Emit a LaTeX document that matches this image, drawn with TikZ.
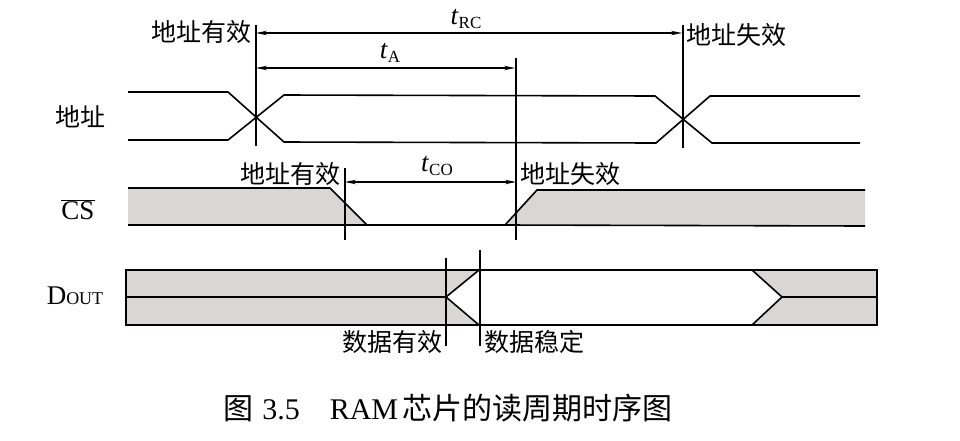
\documentclass[tikz,border=0pt]{standalone}
\usepackage{fontspec}
\setmainfont{Liberation Serif}
\newfontfamily\cjk{Noto Sans CJK SC}
\usetikzlibrary{arrows.meta}
\definecolor{shadegray}{RGB}{218,214,214}
\begin{document}
\begin{tikzpicture}[x=1pt,y=-1pt,
  sig/.style={line width=1.6pt, line join=miter},
  vline/.style={line width=1.4pt},
  dimarrow/.style={line width=1.1pt,{Stealth[length=11pt,width=4.5pt]}-{Stealth[length=11pt,width=4.5pt]}},
  lbl/.style={font=\cjk\fontsize{25}{27}\selectfont, inner sep=1pt},
  sname/.style={font=\fontsize{27}{29}\selectfont, inner sep=1pt},
  tlbl/.style={font=\fontsize{27}{29}\selectfont, inner sep=1pt}]
\useasboundingbox (0,0) rectangle (960,440);

% ---- address waveform
\draw[sig] (128,92) -- (228,92) -- (284,142) -- (656,143) -- (710,96) -- (860,96);
\draw[sig] (128,140) -- (228,140) -- (284,95) -- (655,96) -- (712,143) -- (860,143);

% ---- CS waveform
\fill[shadegray] (128,188) -- (330,188) -- (367,225) -- (128,225) -- cycle;
\fill[shadegray] (505,225) -- (537,190) -- (865,190) -- (865,226) -- cycle;
\draw[sig] (128,188) -- (330,188) -- (367,225);
\draw[sig] (128,225) -- (505,225) -- (537,190) -- (865,190);
\draw[sig] (505,225) -- (865,226);

% ---- DOUT waveform
\fill[shadegray] (126,270) -- (479,270) -- (446,297) -- (479,325) -- (126,325) -- cycle;
\fill[shadegray] (752,270) -- (877,270) -- (877,325) -- (752,325) -- (782,297) -- cycle;
\draw[sig] (126,270) rectangle (877,325);
\draw[sig] (126,297) -- (446,297);
\draw[sig] (479,270) -- (446,297) -- (479,325);
\draw[sig] (752,270) -- (782,297) -- (752,325);
\draw[sig] (782,297) -- (877,297);

% ---- vertical reference lines
\coordinate (v1t) at (256,25);  \coordinate (v1b) at (256,146);
\coordinate (v2t) at (683,25);  \coordinate (v2b) at (683,148);
\coordinate (v3t) at (516,58);  \coordinate (v3b) at (516,240);
\coordinate (v4t) at (345,168); \coordinate (v4b) at (345,240);
\coordinate (v5t) at (446,258); \coordinate (v5b) at (446,346);
\coordinate (v6t) at (480,250); \coordinate (v6b) at (480,346);
\foreach \a/\b in {v1t/v1b,v2t/v2b,v3t/v3b,v4t/v4b,v5t/v5b,v6t/v6b}
  \draw[vline] (\a) -- (\b);

% ---- timing arrows
\coordinate (rcL) at (256,33); \coordinate (rcR) at (682,33);
\coordinate (aL) at (256,68);  \coordinate (aR) at (515,68);
\coordinate (coL) at (345,182); \coordinate (coR) at (516,182);
\draw[dimarrow] (rcL) -- (rcR);
\draw[dimarrow] (aL) -- (aR);
\draw[dimarrow] (coL) -- (coR);
\node[tlbl] (trc) at (466,19) {\textit{t}\raisebox{-0.3ex}{\fontsize{17}{17}\selectfont RC}};
\node[tlbl] (ta) at (390,53) {\textit{t}\raisebox{-0.3ex}{\fontsize{17}{17}\selectfont A}};
\node[tlbl] (tco) at (437,166) {\textit{t}\raisebox{-0.3ex}{\fontsize{17}{17}\selectfont CO}};

% ---- labels
\node[lbl, anchor=east] (l1) at (253,32) {地址有效};
\node[lbl, anchor=west] (l2) at (685,35) {地址失效};
\node[lbl] (addr) at (80,117) {地址};
\node[lbl, anchor=east] (l3) at (342,174) {地址有效};
\node[lbl, anchor=west] (l4) at (519,174) {地址失效};
\node[lbl, anchor=east] (l5) at (444,342) {数据有效};
\node[lbl, anchor=west] (l6) at (483,342) {数据稳定};
\node[sname] (cs) at (78,210) {$\overline{\hbox{\fontsize{27}{29}\selectfont CS}}$};
\node[sname] (dout) at (75,296) {D\fontsize{18}{18}\selectfont OUT};

% ---- caption
\node[font=\fontsize{30}{32}\selectfont, inner sep=0pt] (cap) at (448,408)
  {{\cjk 图}\hspace{0.3em}3.5\hspace{1em}RAM\hspace{0.15em}{\cjk 芯片的读周期时序图}};
\end{tikzpicture}
\end{document}
